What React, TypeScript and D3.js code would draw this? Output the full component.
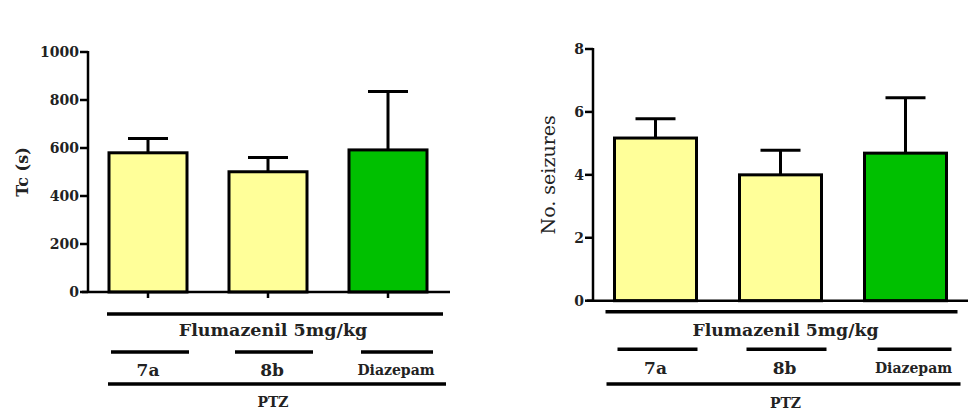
import React from "react";
import * as d3 from "d3";

const groups = ["7a", "8b", "Diazepam"];
const barColors = ["#ffff99", "#ffff99", "#00c000"];

const tcMeans = [580, 501, 592];
const tcErrors = [60, 59, 243];
const tcTicks = [0, 200, 400, 600, 800, 1000];

const seizureMeans = [5.17, 4.0, 4.69];
const seizureErrors = [0.61, 0.78, 1.76];
const seizureTicks = [0, 2, 4, 6, 8];

const FONT = "DejaVu Serif";

type PanelProps = {
  means: number[];
  errors: number[];
  ticks: number[];
  yMax: number;
  yLabel: string;
  yLabelBold: boolean;
  axisX: number;
  top: number;
  bottom: number;
  xRange: [number, number];
  axisEnd: number;
  barWidth: number;
  xTicks: boolean;
  lineY: [number, number, number];
  lineSpan: [number, number];
  segWidth: number;
  labelY: [number, number, number];
  yLabelX: number;
  fluSize: number;
};

const Panel = (p: PanelProps) => {
  const y = d3.scaleLinear().domain([0, p.yMax]).range([p.bottom, p.top]);
  const x = d3.scalePoint<string>().domain(groups).range(p.xRange).padding(0.5);
  const first = x(groups[0])!;
  const last = x(groups[groups.length - 1])!;
  const mid = (first + last) / 2 + 5;
  const cap = 40;

  return (
    <g fontFamily={FONT}>
      {groups.map((g, i) => {
        const cx = x(g)!;
        const yt = y(p.means[i]);
        const ye = y(p.means[i] + p.errors[i]);
        return (
          <g key={g}>
            <line x1={cx} x2={cx} y1={yt} y2={ye} stroke="#000" strokeWidth={3} />
            <line x1={cx - cap / 2} x2={cx + cap / 2} y1={ye} y2={ye} stroke="#000" strokeWidth={3} />
            <rect
              x={cx - p.barWidth / 2}
              y={yt}
              width={p.barWidth}
              height={p.bottom - yt}
              fill={barColors[i]}
              stroke="#000"
              strokeWidth={3}
            />
            {p.xTicks && (
              <line x1={cx} x2={cx} y1={p.bottom} y2={p.bottom + 6} stroke="#000" strokeWidth={2.5} />
            )}
          </g>
        );
      })}
      {/* axes */}
      <line x1={p.axisX} x2={p.axisX} y1={p.top - 1} y2={p.bottom} stroke="#000" strokeWidth={2.5} />
      <line x1={p.axisX - 6} x2={p.axisEnd} y1={p.bottom} y2={p.bottom} stroke="#000" strokeWidth={2.5} />
      {p.ticks.map((t) => (
        <g key={t}>
          <line x1={p.axisX - 8} x2={p.axisX} y1={y(t)} y2={y(t)} stroke="#000" strokeWidth={2.5} />
          <text
            x={p.axisX - 9}
            y={y(t)}
            dy="0.36em"
            textAnchor="end"
            fontSize={14}
            fontWeight="bold"
            fill="#222"
          >
            {t}
          </text>
        </g>
      ))}
      <text
        transform={`translate(${p.yLabelX},${(p.top + p.bottom) / 2}) rotate(-90)`}
        textAnchor="middle"
        dy="0.35em"
        fontSize={p.yLabelBold ? 16 : 19}
        fontWeight={p.yLabelBold ? "bold" : "normal"}
        fill="#222"
      >
        {p.yLabel}
      </text>
      {/* group brackets */}
      <line x1={first - p.lineSpan[0]} x2={last + p.lineSpan[1]} y1={p.lineY[0]} y2={p.lineY[0]} stroke="#000" strokeWidth={3.5} />
      <text x={mid} y={p.labelY[0]} textAnchor="middle" dy="0.36em" fontSize={p.fluSize} fontWeight="bold" fill="#222">
        Flumazenil 5mg/kg
      </text>
      {groups.map((g, i) => (
        <g key={g}>
          <line
            x1={x(g)! - p.segWidth / 2 + (i === 0 ? 0 : i === 1 ? 4 : 10)}
            x2={x(g)! + p.segWidth / 2 + (i === 0 ? 4 : 8)}
            y1={p.lineY[1]}
            y2={p.lineY[1]}
            stroke="#000"
            strokeWidth={3.5}
          />
          <text
            x={x(g)! + (i === 2 ? 8 : i === 1 ? 4 : 0)}
            y={p.labelY[1]}
            textAnchor="middle"
            dy="0.36em"
            fontSize={i === 2 ? 14 : 17}
            fontWeight="bold"
            fill="#222"
          >
            {g}
          </text>
        </g>
      ))}
      <line x1={first - p.lineSpan[0] + 1} x2={last + p.lineSpan[1] + 3} y1={p.lineY[2]} y2={p.lineY[2]} stroke="#000" strokeWidth={3.5} />
      <text x={mid} y={p.labelY[2]} textAnchor="middle" dy="0.36em" fontSize={14} fontWeight="bold" fill="#222">
        PTZ
      </text>
    </g>
  );
};

export default function App() {
  return (
    <svg width={968} height={420} style={{ position: "absolute", left: 0, top: 0, background: "#fff" }}>
      <rect width={968} height={420} fill="#fff" />
      <Panel
        means={tcMeans}
        errors={tcErrors}
        ticks={tcTicks}
        yMax={1000}
        yLabel="Tc (s)"
        yLabelBold={true}
        axisX={88}
        top={52}
        bottom={292}
        xRange={[88, 448]}
        axisEnd={450}
        barWidth={78}
        xTicks={true}
        lineY={[314, 352, 384]}
        lineSpan={[41, 55]}
        segWidth={74}
        labelY={[330, 370, 402]}
        yLabelX={22}
        fluSize={17.5}
      />
      <Panel
        means={seizureMeans}
        errors={seizureErrors}
        ticks={seizureTicks}
        yMax={8}
        yLabel="No. seizures"
        yLabelBold={false}
        axisX={593}
        top={49}
        bottom={300.7}
        xRange={[593, 968]}
        axisEnd={968}
        barWidth={82}
        xTicks={false}
        lineY={[311.7, 349.3, 384]}
        lineSpan={[50, 52]}
        segWidth={76}
        labelY={[330, 368, 403]}
        yLabelX={548}
        fluSize={17.3}
      />
    </svg>
  );
}
